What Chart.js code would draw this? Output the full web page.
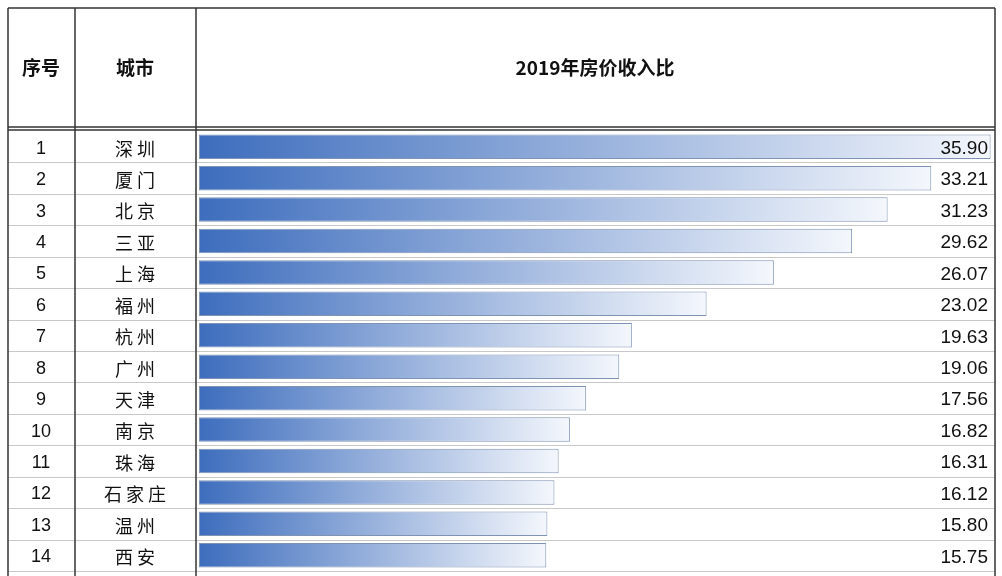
<!DOCTYPE html>
<html><head><meta charset="utf-8">
<script src="https://cdn.jsdelivr.net/npm/chart.js@4"></script>
<style>html,body{margin:0;padding:0;background:#fff}#wrap{width:1002px;height:576px}</style>
</head><body><div id="wrap"><canvas id="c"></canvas></div>
<script>
const ranks = ['1','2','3','4','5','6','7','8','9','10','11','12','13','14'];
const cities = ['深圳','厦门','北京','三亚','上海','福州','杭州','广州','天津','南京','珠海','石家庄','温州','西安'];
const ratios = [35.90, 33.21, 31.23, 29.62, 26.07, 23.02, 19.63, 19.06, 17.56, 16.82, 16.31, 16.12, 15.80, 15.75];
const title = '2019年房价收入比';

// grid lines under the bars, text over them
const tablePlugin = {
  id: 'table',
  beforeDatasetsDraw(chart) {
    const ctx = chart.ctx, a = chart.chartArea;
    ctx.save();
    ctx.strokeStyle = '#c8c8c8'; ctx.lineWidth = 1;
    const step = (a.bottom - a.top) / ranks.length;
    for (let i = 1; i <= ranks.length; i++) {
      const yy = Math.round(a.top + i * step) + 0.5;
      ctx.beginPath(); ctx.moveTo(8, yy); ctx.lineTo(995, yy); ctx.stroke();
    }
    ctx.strokeStyle = '#333'; ctx.lineWidth = 1.5;
    ctx.beginPath(); ctx.moveTo(8, 8); ctx.lineTo(995, 8); ctx.stroke();
    ctx.beginPath(); ctx.moveTo(8, 127); ctx.lineTo(995, 127); ctx.stroke();
    ctx.beginPath(); ctx.moveTo(8, 130); ctx.lineTo(995, 130); ctx.stroke();
    [8, 75, 196, 995].forEach(x => { ctx.beginPath(); ctx.moveTo(x, 8); ctx.lineTo(x, 576); ctx.stroke(); });
    ctx.restore();
  },
  afterDatasetsDraw(chart) {
    const ctx = chart.ctx, y = chart.scales.y;
    ctx.save();
    ctx.fillStyle = '#111';
    ctx.textAlign = 'center'; ctx.textBaseline = 'middle';
    ctx.font = 'bold 19px "Noto Sans CJK SC"';
    ctx.fillText('序号', 41, 68); ctx.fillText('城市', 135, 68); ctx.fillText(title, 595, 68);
    ranks.forEach((r, i) => {
      const yy = y.getPixelForValue(i) + 2;
      ctx.textAlign = 'center';
      ctx.font = '18px "Liberation Sans"'; ctx.fillText(r, 41, yy);
      ctx.font = '18px "Noto Sans CJK SC"'; ctx.fillText(cities[i].split('').join(' '), 135, yy);
      ctx.textAlign = 'right'; ctx.font = '19px "Liberation Sans"';
      ctx.fillText(ratios[i].toFixed(2), 988, yy);
    });
    ctx.restore();
  }
};

new Chart(document.getElementById('c'), {
  type: 'bar',
  data: {
    labels: cities,
    datasets: [{
      data: ratios,
      backgroundColor(c) {
        const a = c.chart.chartArea, x = c.chart.scales.x;
        if (!a || !x || c.raw == null) return '#4a78c0';
        const end = x.getPixelForValue(c.raw);
        const g = c.chart.ctx.createLinearGradient(a.left, 0, end, 0);
        g.addColorStop(0, '#3d6dbd'); g.addColorStop(1, '#f4f7fc');
        return g;
      },
      borderColor: '#7f93b3', borderWidth: 1, borderSkipped: false,
      barPercentage: 0.78, categoryPercentage: 1
    }]
  },
  options: {
    responsive: true, maintainAspectRatio: false, animation: false,
    indexAxis: 'y',
    layout: { padding: { left: 199, right: 7, top: 131, bottom: 5 } },
    plugins: { legend: { display: false }, tooltip: { enabled: false } },
    scales: {
      x: { display: false, min: 0, max: 36.1 },
      y: { display: false }
    }
  },
  plugins: [tablePlugin]
});
</script></body></html>
